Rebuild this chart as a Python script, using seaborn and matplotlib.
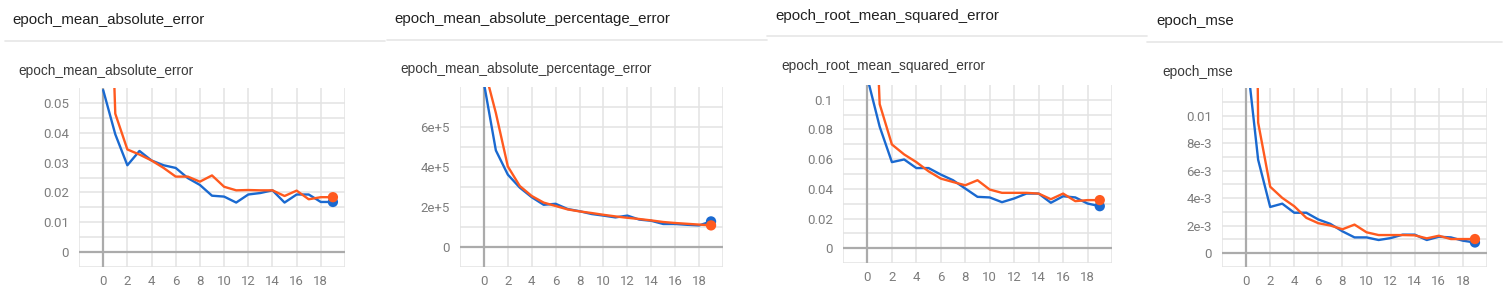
import numpy as np
import pandas as pd
import seaborn as sns
import matplotlib.pyplot as plt

# ---------------- data ----------------
epochs = list(range(20))

mae_validation = [0.0543, 0.0395, 0.0291, 0.0339, 0.0307, 0.0291, 0.0282, 0.0248, 0.0225, 0.0189,
                  0.0186, 0.0166, 0.0193, 0.0198, 0.0207, 0.0166, 0.0193, 0.0193, 0.0168, 0.0168]
mae_train = [0.170, 0.0464, 0.0344, 0.0327, 0.0307, 0.0282, 0.0253, 0.0253, 0.0236, 0.0257,
             0.0219, 0.0207, 0.0208, 0.0207, 0.0207, 0.0188, 0.0206, 0.0177, 0.0184, 0.0184]

mape_validation = [8.2e5, 4.83e5, 3.62e5, 2.97e5, 2.49e5, 2.11e5, 2.16e5, 1.90e5, 1.79e5, 1.65e5,
                   1.57e5, 1.48e5, 1.57e5, 1.37e5, 1.31e5, 1.15e5, 1.15e5, 1.11e5, 1.08e5, 1.28e5]
mape_train = [9.0e5, 6.7e5, 4.03e5, 3.05e5, 2.55e5, 2.22e5, 2.05e5, 1.88e5, 1.78e5, 1.70e5,
              1.61e5, 1.53e5, 1.46e5, 1.40e5, 1.33e5, 1.25e5, 1.20e5, 1.16e5, 1.12e5, 1.08e5]

rmse_validation = [0.1146, 0.0819, 0.0580, 0.0598, 0.0540, 0.0540, 0.0496, 0.0458, 0.0402, 0.0346,
                   0.0342, 0.0310, 0.0335, 0.0368, 0.0368, 0.0306, 0.0350, 0.0342, 0.0301, 0.0283]
rmse_train = [0.300, 0.0971, 0.0699, 0.0632, 0.0580, 0.0518, 0.0469, 0.0446, 0.0424, 0.0458,
              0.0395, 0.0373, 0.0373, 0.0373, 0.0368, 0.0330, 0.0368, 0.0317, 0.0324, 0.0324]

mse_validation = [0.0147, 6.79e-3, 3.36e-3, 3.60e-3, 2.94e-3, 2.94e-3, 2.45e-3, 2.13e-3, 1.59e-3, 1.15e-3,
                  1.15e-3, 0.96e-3, 1.10e-3, 1.35e-3, 1.35e-3, 0.96e-3, 1.20e-3, 1.15e-3, 0.91e-3, 0.78e-3]
mse_train = [0.090, 9.49e-3, 4.83e-3, 4.02e-3, 3.41e-3, 2.57e-3, 2.18e-3, 2.01e-3, 1.74e-3, 2.08e-3,
             1.52e-3, 1.32e-3, 1.32e-3, 1.32e-3, 1.30e-3, 1.08e-3, 1.27e-3, 1.03e-3, 1.03e-3, 1.03e-3]

titles = ["epoch_mean_absolute_error", "epoch_mean_absolute_percentage_error",
          "epoch_root_mean_squared_error", "epoch_mse"]

# y tick labels per panel (value -> label)
mae_ytick_values = [0, 0.01, 0.02, 0.03, 0.04, 0.05]
mae_ytick_labels = ["0", "0.01", "0.02", "0.03", "0.04", "0.05"]
mape_ytick_values = [0, 2e5, 4e5, 6e5]
mape_ytick_labels = ["0", "2e+5", "4e+5", "6e+5"]
rmse_ytick_values = [0, 0.02, 0.04, 0.06, 0.08, 0.1]
rmse_ytick_labels = ["0", "0.02", "0.04", "0.06", "0.08", "0.1"]
mse_ytick_values = [0, 2e-3, 4e-3, 6e-3, 8e-3, 0.01]
mse_ytick_labels = ["0", "2e-3", "4e-3", "6e-3", "8e-3", "0.01"]

xtick_values = list(range(-2, 21, 2))
xtick_labels = ["" if v in (-2, 20) else str(v) for v in xtick_values]

# ---------------- style ----------------
W, H = 1507, 288
DPI = 100
sns.set_theme(style="white")
plt.rcParams['font.family'] = ['Roboto', 'DejaVu Sans']

BLUE = "#1a69d0"
ORANGE = "#ff5a1f"
GRID = "#e3e3e3"
ZERO = "#ababab"
TICKC = "#7d7d7d"

fig = plt.figure(figsize=(W / DPI, H / DPI), dpi=DPI)
fig.patch.set_facecolor("white")


def px_axes(l, t, r, b):
    return fig.add_axes([l / W, 1 - b / H, (r - l) / W, (b - t) / H])


panels = [
    dict(title=titles[0], val=mae_validation, tr=mae_train, ylim=(-0.005, 0.055), step=0.005,
         yv=mae_ytick_values, yl=mae_ytick_labels, box=(79, 88, 345, 267),
         head=(12, 20), sub=(18, 71), sep=(5, 385, 41)),
    dict(title=titles[1], val=mape_validation, tr=mape_train, ylim=(-1e5, 8e5), step=1e5,
         yv=mape_ytick_values, yl=mape_ytick_labels, box=(460, 87, 723, 267),
         head=(394, 19), sub=(400, 69), sep=(387, 767, 40)),
    dict(title=titles[2], val=rmse_validation, tr=rmse_train, ylim=(-0.01, 0.11), step=0.01,
         yv=rmse_ytick_values, yl=rmse_ytick_labels, box=(843, 85, 1112, 263),
         head=(775, 16), sub=(781, 66), sep=(767, 1147, 36)),
    dict(title=titles[3], val=mse_validation, tr=mse_train, ylim=(-1e-3, 0.012), step=1e-3,
         yv=mse_ytick_values, yl=mse_ytick_labels, box=(1222, 88, 1487, 267),
         head=(1156, 21), sub=(1162, 72), sep=(1147, 1502, 42)),
]

for p in panels:
    ax = px_axes(*p["box"])
    df = pd.DataFrame({
        "epoch": epochs * 2,
        "value": list(p["val"]) + list(p["tr"]),
        "run": ["validation"] * len(epochs) + ["train"] * len(epochs),
    })
    y0, y1 = p["ylim"]
    step = p["step"]
    grid_vals = []
    v = y0
    while v < y1 - step * 0.5:
        grid_vals.append(round(v, 10))
        v += step
    labels = []
    for g in grid_vals:
        lab = ""
        for tv, tl in zip(p["yv"], p["yl"]):
            if abs(g - tv) < step * 1e-3:
                lab = tl
        labels.append(lab)

    ax.set_xlim(-2, 20)
    ax.set_ylim(y0, y1)
    ax.set_xticks(xtick_values, labels=xtick_labels)
    ax.set_yticks(grid_vals, labels=labels)
    ax.grid(True, color=GRID, lw=1.1, zorder=0)
    ax.axhline(0, color=ZERO, lw=1.6, zorder=1)
    ax.axvline(0, color=ZERO, lw=1.6, zorder=1)
    for s in ax.spines.values():
        s.set_visible(False)
    ax.tick_params(axis="both", length=3.6, width=1.1, color=GRID, labelcolor=TICKC,
                   labelsize=9.5)
    ax.tick_params(axis="x", pad=2.2)
    ax.tick_params(axis="y", pad=3.6)
    ax.set_facecolor("white")

    sns.lineplot(data=df, x="epoch", y="value", hue="run",
                 palette={"validation": BLUE, "train": ORANGE},
                 hue_order=["validation", "train"], lw=1.7, legend=False, ax=ax, zorder=3)
    last = df[df["epoch"] == epochs[-1]]
    sns.scatterplot(data=last, x="epoch", y="value", hue="run",
                    palette={"validation": BLUE, "train": ORANGE},
                    hue_order=["validation", "train"], s=55, edgecolor="none",
                    legend=False, ax=ax, zorder=4, clip_on=False)
    ax.set_xlabel("")
    ax.set_ylabel("")

    hx, hy = p["head"]
    fig.text(hx / W, 1 - hy / H, p["title"], fontsize=10.8, color="#202020",
             family=["Liberation Sans", "DejaVu Sans"], va="center", ha="left")
    sx, sy = p["sub"]
    fig.text(sx / W, 1 - sy / H, p["title"], fontsize=9.8, color="#3a3a3a",
             family=["Liberation Sans", "DejaVu Sans"], va="center", ha="left")
    a, b, yy = p["sep"]
    fig.add_artist(plt.Line2D([a / W, b / W], [1 - yy / H, 1 - yy / H],
                              color="#e6e6e6", lw=1.2))

fig.savefig("out.png", dpi=DPI, facecolor="white")
